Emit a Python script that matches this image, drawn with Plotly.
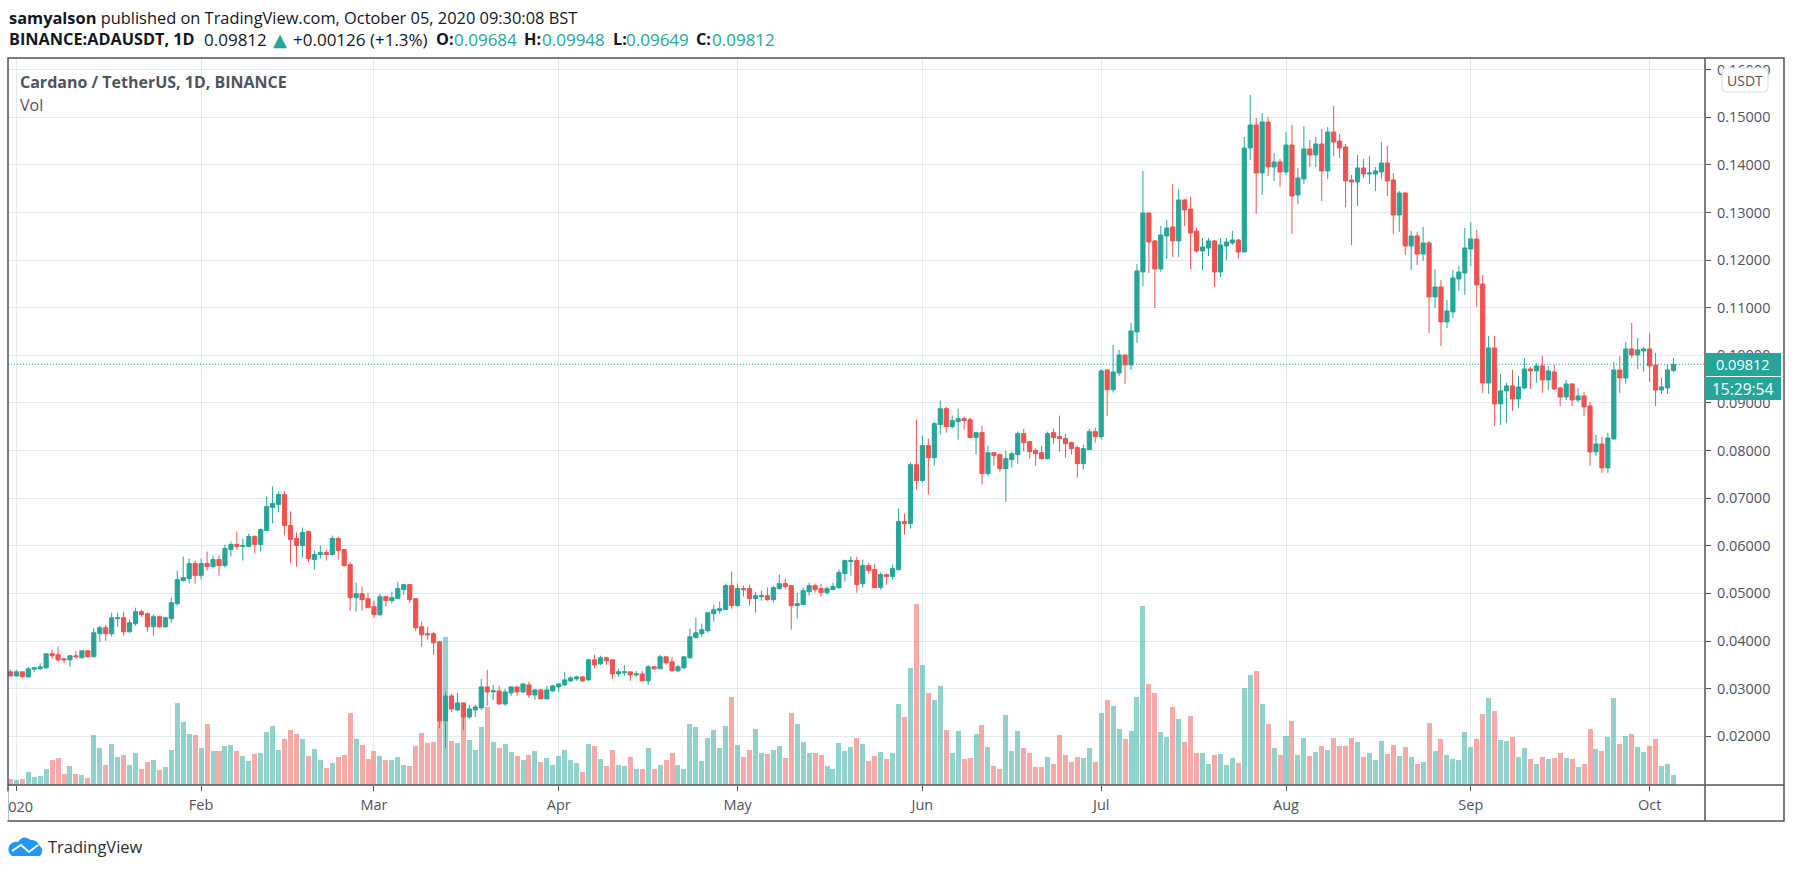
import numpy as np
import pandas as pd
import plotly.graph_objects as go

# ADAUSDT daily candles, Dec 31 2019 to Oct 5 2020, prices in 1e-5 USDT
opens = [3353,
    3268,3353,3247,3409,3416,3437,3732,3711,3626,3605,3690,3648,3795,3669,4153,4279,4153,4469,4490,4195,4364,4616,4574,4300,4511,4300,4469,4785,5269,5311,5627,
    5374,5627,5564,5711,5585,5922,6027,5985,5985,6196,6027,6322,6807,6870,7080,6427,6154,6006,6301,5711,5817,5859,5817,6154,5922,5606,4911,4995,4890,
    4721,4553,4932,4848,4890,5080,5185,4890,4300,4153,4153,3984,2321,2847,2552,2700,2405,2552,2595,3037,2931,2952,2679,2910,3037,2931,3079,2868,2974,2784,2952,
    3037,3079,3163,3205,3247,3184,3605,3521,3648,3605,3310,3332,3353,3289,3310,3163,3458,3416,3669,3563,3374,3437,3648,4069,4153,4216,4574,4637,4658,5164,
    4743,5101,5101,4890,4932,4953,4869,5101,5206,5164,4743,4764,5037,5164,5101,5016,5080,5122,5416,5669,5690,5206,5585,5501,5122,5395,5353,5500,6508,6466,7705,
    7369,8104,7852,8545,8881,8503,8608,8671,8650,8272,8377,7516,7957,7915,7621,7810,7915,8356,8188,7999,7957,7831,8377,8293,8251,8167,8062,7726,8020,8398,
    8293,9694,9280,9631,10009,9799,10492,11752,12991,12403,11815,12508,12697,12403,13264,13075,12613,12193,12256,12403,11752,12298,12361,12424,12172,14356,14839,13831,14902,13957,14062,
    13852,14419,13369,13705,14335,14209,14440,13873,14692,14503,14377,13684,13642,13936,13810,13810,13852,14041,13684,12949,13411,12298,12508,12130,12361,11227,11437,10702,10912,11605,11731,
    12235,12445,11500,9421,10156,8980,9253,9358,9085,9316,9715,9673,9778,9484,9652,9316,9127,9400,9064,9148,8938,7972,8140,7636,8245,9694,9526,10135,10009,10093,
    10135,9799,9274,9316,9684]
highs = [3402,
    3395,3353,3458,3458,3535,3732,3816,3879,3648,3711,3795,3795,3795,4272,4321,4342,4595,4595,4616,4448,4700,4658,4595,4553,4532,4511,4911,5480,5775,5732,5690,
    5732,5880,5796,5796,6027,6090,6301,6154,6259,6217,6364,7038,7249,7143,7143,6722,6280,6385,6322,5901,6006,5922,6217,6196,5922,5669,5227,5143,5016,
    4848,4995,4953,5037,5248,5185,5185,4890,4406,4300,4195,3984,2931,2889,2910,2700,2658,2658,3205,3395,3079,3058,2995,3037,3037,3100,3142,2995,2995,3058,3079,
    3100,3353,3268,3268,3268,3626,3711,3690,3669,3605,3416,3500,3353,3374,3374,3500,3479,3711,3690,3669,3500,3669,4258,4490,4364,4616,4764,4827,5206,5459,
    5206,5164,5185,5037,5058,5122,5164,5395,5311,5164,5016,5122,5227,5206,5206,5143,5227,5501,5711,5775,5775,5711,5648,5627,5437,5416,5605,6781,6676,7747,8650,
    8314,8251,8608,9049,8923,8734,8881,8713,8692,8398,8524,8104,7957,7936,7999,7978,8398,8461,8188,8041,8104,8398,8461,8734,8356,8188,8104,8125,8461,8482,
    9715,9694,10219,10114,10009,10681,11920,13873,12991,12424,12718,12844,13600,13495,13285,13327,12676,12466,12466,12424,12466,12466,12613,12445,14587,15469,14986,15091,15007,14251,14125,
    14692,14839,13936,14818,14524,14587,14755,14797,15238,14650,14440,13789,14209,14125,14188,13957,14482,14398,13831,13453,13432,12613,12592,12697,12403,11815,11584,11164,11794,11878,12676,
    12802,12634,11689,10408,10408,9610,9421,9694,9568,9946,9757,9841,9988,9778,9799,9337,9484,9421,9316,9232,9022,8329,8287,8371,9862,9988,10282,10681,10366,10177,
    10471,10051,9526,9799,9948]
lows = [3254,
    3254,3212,3226,3353,3395,3416,3626,3563,3542,3458,3626,3648,3648,3669,3984,4005,4090,4300,4111,4174,4321,4511,4195,4111,4279,4279,4385,4743,5248,5206,5206,
    5290,5480,5522,5374,5543,5775,5922,5690,5985,5838,5880,6322,6470,6701,6217,5648,5564,5754,5648,5501,5732,5690,5796,5711,5564,4637,4616,4637,4700,
    4490,4532,4721,4785,4890,4974,4806,4216,3879,4027,3711,2173,1752,2510,2531,2131,2363,2405,2552,2637,2763,2658,2637,2847,2847,2910,2805,2763,2784,2784,2931,
    2931,3058,3142,3163,3142,3163,3437,3500,3500,3205,3247,3268,3163,3247,3163,3079,3395,3416,3500,3374,3353,3416,3626,4069,4090,4174,4406,4574,4658,4679,
    4721,4932,4743,4595,4848,4848,4806,5080,5101,4237,4469,4764,4953,5016,4932,4974,5080,5101,5248,5374,5016,5122,5416,5101,5080,5185,5290,5479,6235,6361,7180,
    7327,7075,7684,8335,8377,8461,8230,8440,8272,7915,7285,7474,7684,7558,6928,7642,7726,7978,7831,7684,7810,7810,8146,7978,7852,7915,7432,7600,8020,8167,
    8230,8734,9217,9568,9406,9694,10261,11458,11731,10996,11752,12025,12067,12067,12718,11815,12151,11794,12088,11437,11647,12004,12319,12025,12172,14104,12970,13369,13768,13663,13537,
    13789,12550,13180,13600,13957,13957,13243,13705,14188,14146,13117,12319,13138,13726,13600,13453,13705,13348,12550,12592,12109,11794,11899,11983,10471,10996,10198,10576,10786,11353,11269,
    11878,11017,9211,9190,8518,8539,8581,8833,8896,9295,9295,9421,9211,9274,9274,8938,9064,8938,9022,8728,7678,7888,7531,7531,8224,9211,9400,9946,9715,9652,
    9442,8938,9190,9190,9649]
closes = [3268,
    3353,3254,3416,3437,3458,3732,3690,3605,3605,3690,3669,3795,3669,4174,4279,4153,4490,4490,4195,4385,4616,4553,4300,4511,4300,4490,4806,5290,5332,5627,5374,
    5627,5564,5711,5585,5943,6027,5985,6006,6196,6027,6343,6828,6891,7080,6427,6133,6006,6280,5732,5817,5859,5817,6154,5901,5585,4911,4995,4869,4700,
    4553,4932,4848,4911,5101,5185,4869,4279,4132,4132,3963,2321,2847,2573,2700,2405,2573,2616,3037,2931,2952,2679,2931,3037,2931,3100,2868,2974,2784,2974,3058,
    3100,3184,3226,3247,3163,3605,3500,3648,3584,3310,3353,3353,3289,3310,3163,3458,3416,3669,3542,3374,3458,3669,4090,4174,4237,4595,4658,4679,5164,4743,
    5101,5080,4890,4953,4953,4869,5122,5206,5143,4743,4785,5058,5164,5080,5016,5101,5143,5438,5690,5690,5185,5585,5480,5122,5395,5353,5521,6508,6466,7705,7369,
    8104,7852,8566,8881,8503,8629,8671,8629,8272,8377,7516,7957,7894,7621,7831,7936,8356,8167,7978,7936,7831,8356,8272,8251,8146,8041,7726,8041,8398,8293,
    9673,9280,9652,10009,9799,10513,11773,12991,12382,11815,12529,12676,12403,13264,13054,12571,12193,12277,12403,11752,12319,12382,12424,12172,14356,14839,13831,14902,13957,14062,13852,
    14419,13348,13726,14335,14209,14440,13873,14692,14482,14356,13663,13642,13936,13810,13831,13873,14041,13663,12949,13411,12298,12508,12130,12361,11227,11437,10702,10933,11626,11752,12256,
    12445,11479,9421,10156,8980,9253,9358,9085,9337,9715,9673,9778,9484,9673,9295,9127,9400,9064,9148,8917,7972,8140,7636,8266,9694,9526,10135,10009,10114,10135,
    9778,9274,9337,9694,9812]
# volume, millions (estimated, the axis has no scale in the picture)
volumes = [18,
    15,18,39,24,27,48,75,81,33,57,33,30,21,150,111,60,123,84,90,60,96,48,69,75,45,54,105,246,189,153,150,
    111,183,102,102,117,120,102,87,72,93,96,159,177,105,138,165,153,138,87,108,75,51,66,84,90,216,138,120,78,
    102,87,75,75,84,60,57,117,156,126,129,192,444,132,126,205,135,105,174,234,129,111,123,99,87,75,90,102,69,81,60,
    87,105,75,66,39,123,117,78,57,105,60,57,84,48,48,111,48,60,75,96,60,48,183,174,72,141,165,111,177,264,
    120,84,105,168,96,93,105,117,81,216,183,129,96,96,90,57,48,126,102,114,141,123,73,88,100,79,97,244,205,352,544,
    361,277,256,298,166,97,163,79,82,154,181,115,58,49,211,103,163,112,97,55,55,85,64,151,91,70,85,82,112,70,
    217,256,238,169,139,163,265,538,304,277,160,145,235,199,130,208,97,97,64,91,94,61,82,67,292,331,343,244,184,112,91,
    148,192,91,141,87,99,117,105,141,117,117,141,130,85,97,76,133,94,121,88,115,85,64,70,187,103,139,91,79,76,160,
    115,139,214,262,223,136,133,145,85,112,79,64,85,79,82,97,82,79,55,64,169,109,103,145,262,124,148,154,115,100,
    118,139,58,64,31]

month_ticks = ["2020-01-01", "2020-02-01", "2020-03-01", "2020-04-01", "2020-05-01",
               "2020-06-01", "2020-07-01", "2020-08-01", "2020-09-01", "2020-10-01"]
month_labels = ["", "Feb", "Mar", "Apr", "May", "Jun", "Jul", "Aug", "Sep", "Oct"]
price_ticks = [0.02, 0.03, 0.04, 0.05, 0.06, 0.07, 0.08, 0.09, 0.10, 0.11, 0.12, 0.13, 0.14, 0.15, 0.16]
last_price = 0.09812

assert len(opens) == len(highs) == len(lows) == len(closes) == len(volumes) == 280

GREEN = "#26a69a"
RED = "#ef5350"
GRID = "#e1ecf2"
FRAME = "#50535e"
DARK = "#131722"
FONT = "Open Sans"

W, H = 1793, 871
LEFT, RIGHT, TOP, BOTTOM = 8, 1705, 58, 785

dates = pd.date_range("2019-12-31", periods=len(closes))
o = np.array(opens) / 1e5
h = np.array(highs) / 1e5
l = np.array(lows) / 1e5
c = np.array(closes) / 1e5
bar_colors = [RED if close < open_ else GREEN for open_, close in zip(o, c)]


def px(x):
    return (x - LEFT) / (RIGHT - LEFT)


def py(y):
    return (BOTTOM - y) / (BOTTOM - TOP)


def box(x0, y0, x1, y1, fill=None, line=None, width=1):
    return dict(type="rect", xref="paper", yref="paper", x0=px(x0), x1=px(x1), y0=py(y0), y1=py(y1),
                fillcolor=fill or "rgba(0,0,0,0)", line=dict(color=line or "rgba(0,0,0,0)", width=width if line else 0),
                layer="above")


def label(x, y, text, size=14, color=FRAME, anchor="left", family=FONT):
    return dict(xref="paper", yref="paper", x=px(x), y=py(y), text=text, showarrow=False, xanchor=anchor,
                yanchor="middle", align=anchor, font=dict(size=size, color=color, family=family))


fig = go.Figure()

fig.add_trace(go.Bar(x=dates, y=volumes, yaxis="y", width=0.84 * 86400000, marker=dict(color=bar_colors, opacity=0.5, line_width=0),
                     showlegend=False, hoverinfo="skip"))
fig.add_trace(go.Candlestick(x=dates, open=o, high=h, low=l, close=c, yaxis="y2", showlegend=False,
                             increasing=dict(line=dict(color=GREEN, width=1), fillcolor=GREEN),
                             decreasing=dict(line=dict(color=RED, width=1), fillcolor=RED),
                             whiskerwidth=0))

shapes = [
    dict(type="line", xref="paper", yref="y2", x0=0, x1=1, y0=last_price, y1=last_price, layer="above",
         line=dict(color=GREEN, width=1, dash="1px,2px")),
    box(LEFT, TOP, 1784, 821, line=FRAME, width=1.5),
    dict(type="line", xref="paper", yref="paper", x0=1, x1=1, y0=py(TOP), y1=py(821), layer="above", line=dict(color=FRAME, width=1.5)),
    dict(type="line", xref="paper", yref="paper", x0=0, x1=px(1784), y0=0, y1=0, layer="above", line=dict(color=FRAME, width=1.5)),
    box(RIGHT + 1, 353, 1781, 376, fill=GREEN),
    box(RIGHT + 1, 377, 1781, 400, fill=GREEN),
    # USDT button
    dict(type="path", xref="paper", yref="paper", layer="above", fillcolor="white", line=dict(color="#d6dce3", width=1),
         path="M {} {} L {} {} Q {} {} {} {} L {} {} Q {} {} {} {} L {} {} Q {} {} {} {} L {} {} Q {} {} {} {} Z".format(
             px(1726), py(68), px(1764), py(68), px(1768), py(68), px(1768), py(72), px(1768), py(88), px(1768), py(92), px(1764), py(92),
             px(1726), py(92), px(1722), py(92), px(1722), py(88), px(1722), py(72), px(1722), py(68), px(1726), py(68))),
    # TradingView logo
    dict(type="path", xref="paper", yref="paper", layer="above", fillcolor="#2196f3", line_width=0,
         path="M {} {} Q {} {} {} {} Q {} {} {} {} Q {} {} {} {} Q {} {} {} {} Q {} {} {} {} L {} {} Q {} {} {} {} Z".format(
             px(12), py(856), px(7), py(852), px(9), py(846), px(13), py(841), px(18), py(842), px(23), py(834), px(31), py(840),
             px(37), py(840), px(39), py(845), px(45), py(850), px(40), py(856), px(12), py(856), px(12), py(856), px(12), py(856))),
    dict(type="path", xref="paper", yref="paper", layer="above", line=dict(color="white", width=2),
         path="M {} {} L {} {} L {} {} L {} {}".format(px(12), py(851), px(21), py(845), px(29), py(852), px(38), py(845))),
]

annotations = [
    label(7, 17, "<b>samyalson</b> published on TradingView.com, October 05, 2020 09:30:08 BST", size=16.4, color=DARK),
    label(7, 39, "<b>BINANCE:ADAUSDT, 1D</b>", size=16.3, color=DARK),
    label(202, 39, "0.09812", size=17, color=DARK),
    label(271, 39, "▲", size=18, color=GREEN, family="DejaVu Sans"),
    label(291, 39, "+0.00126 (+1.3%)", size=17, color=DARK),
    label(434, 39, "<b>O:</b>", size=16.3, color=DARK),
    label(452, 39, "0.09684", size=17, color=GREEN),
    label(522, 39, "<b>H:</b>", size=16.3, color=DARK),
    label(540, 39, "0.09948", size=17, color=GREEN),
    label(611, 39, "<b>L:</b>", size=16.3, color=DARK),
    label(624, 39, "0.09649", size=17, color=GREEN),
    label(694, 39, "<b>C:</b>", size=16.3, color=DARK),
    label(710, 39, "0.09812", size=17, color=GREEN),
    label(18, 82, "<b>Cardano / TetherUS, 1D, BINANCE</b>", size=16),
    label(18, 105, "Vol", size=16),
    label(1745, 80, "USDT", size=14, anchor="center"),
    label(1743, 364.5, "0.09812", size=14.5, color="white", anchor="center"),
    label(1742, 388.5, "15:29:54", size=15.5, color="white", anchor="center"),
    # the first month label runs off the frame in the reference, its left part is covered
    label(16.3, 806, "2020", size=14.5, anchor="center"),
    dict(xref="paper", yref="paper", x=px(0), y=py(806), xanchor="left", yanchor="middle", text=" ", showarrow=False,
         width=7, height=28, bgcolor="white", borderpad=0),
    label(46, 846, "TradingView", size=16.5, color="#2a2e39"),
]

fig.update_layout(
    width=W, height=H, autosize=False,
    margin=dict(l=LEFT, r=W - RIGHT, t=TOP, b=H - BOTTOM, pad=0),
    paper_bgcolor="white", plot_bgcolor="white",
    font=dict(family=FONT, size=14.5, color=FRAME),
    boxgap=0.3, boxgroupgap=0,
    dragmode=False,
    bargap=0,
    xaxis=dict(range=["2019-12-30 14:30", "2020-10-10 07:00"], type="date", tickmode="array", tickvals=month_ticks,
               ticktext=month_labels, ticks="outside", ticklen=5, tickcolor=FRAME, showgrid=True, gridcolor=GRID,
               gridwidth=1, showline=False, zeroline=False, rangeslider=dict(visible=False), tickangle=0,
               ticklabelstandoff=2, tickfont=dict(size=14.5, color=FRAME, family=FONT)),
    yaxis=dict(range=[0, 2181], visible=False, showgrid=False, fixedrange=True),
    yaxis2=dict(range=[0.00976, 0.16246], overlaying="y", side="right", anchor="x", tickmode="array",
                tickvals=price_ticks, ticktext=["%.5f" % p for p in price_ticks], ticks="outside", ticklen=5,
                tickcolor=FRAME, showgrid=True, gridcolor=GRID, gridwidth=1, zeroline=False, showline=False,
                ticklabelstandoff=3, tickfont=dict(size=14.5, color=FRAME, family=FONT)),
    shapes=shapes, annotations=annotations,
)

fig.write_html("out.html", config={"displayModeBar": False}, post_script="document.body.style.margin='0';")
